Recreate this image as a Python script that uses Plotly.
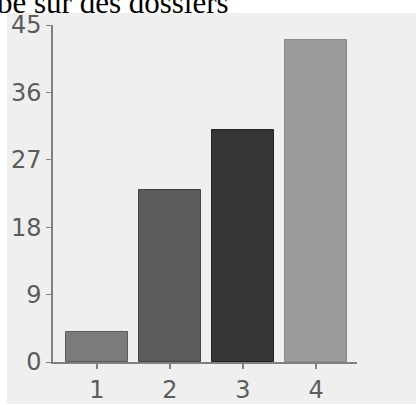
import plotly.graph_objects as go

categories = [1, 2, 3, 4]
values = [4, 23, 31, 43]
bar_colors = ["#7b7b7b", "#5b5b5b", "#353535", "#9b9b9b"]
line_colors = ["#5a5a5a", "#444444", "#222222", "#8a8a8a"]
y_ticks = [0, 9, 18, 27, 36, 45]
title_text = "be sur des dossiers"

W, H = 416, 405
L, R, T, B = 53, 59, 25, 43
pw, ph = W - L - R, H - T - B

def px_x(x):
    return (x - L) / pw

def px_y(y):
    return (H - B - y) / ph

fig = go.Figure()
fig.add_trace(go.Bar(
    x=categories, y=values, width=0.84,
    marker=dict(color=bar_colors, line=dict(color=line_colors, width=1)),
))

fig.add_shape(type="rect", xref="paper", yref="paper",
              x0=px_x(7), x1=px_x(416), y0=px_y(404), y1=px_y(13),
              fillcolor="#efefef", line=dict(width=0), layer="below")

fig.add_annotation(text=title_text, xref="paper", yref="paper",
                   x=px_x(-5), y=px_y(2.5), xanchor="left", yanchor="middle",
                   showarrow=False,
                   font=dict(family="Liberation Serif", size=31, color="#000000"))

tickfont = dict(family="DejaVu Sans", size=24, color="#5c5c5c")
fig.update_layout(
    template="none",
    width=W, height=H,
    margin=dict(l=L, r=R, t=T, b=B, pad=0, autoexpand=False),
    paper_bgcolor="white", plot_bgcolor="rgba(0,0,0,0)",
    showlegend=False,
    bargap=0,
    xaxis=dict(range=[0.4, 4.56], tickvals=categories, ticktext=[str(c) for c in categories],
               automargin=False,
               showgrid=False, zeroline=False, showline=True, linecolor="#808080", linewidth=1.5,
               ticks="outside", ticklen=5, tickcolor="#808080", tickwidth=1.5,
               tickfont=tickfont, ticklabelstandoff=0),
    yaxis=dict(range=[0, 45], tickvals=y_ticks, ticktext=[str(v) for v in y_ticks],
               automargin=False,
               showgrid=False, zeroline=False, showline=True, linecolor="#808080", linewidth=1.5,
               ticks="outside", ticklen=5, tickcolor="#808080", tickwidth=1,
               tickfont=tickfont, ticklabelstandoff=0),
)

fig.write_html("out.html", config={"displayModeBar": False},
               post_script="document.body.style.margin='0';document.body.style.overflow='hidden';")
